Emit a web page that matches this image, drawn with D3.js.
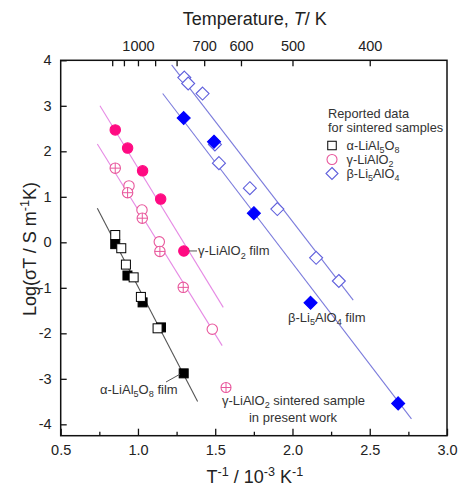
<!DOCTYPE html>
<html>
<head>
<meta charset="utf-8">
<script src="https://cdn.jsdelivr.net/npm/d3@7"></script>
<style>
  html, body { margin: 0; padding: 0; background: #fff; }
  svg { display: block; font-family: "Liberation Sans", Arial, sans-serif; }
</style>
</head>
<body>
<svg id="chart" width="459" height="487"></svg>
<script>
// ---- data (x = 1000/T in 1e-3 K^-1, y = log(sigma*T)) ----
// alpha-LiAl5O8, reported sintered samples
const alphaSinterX = [0.853, 0.892, 0.922, 0.972, 1.019, 1.127];
const alphaSinterY = [0.16, -0.13, -0.49, -0.77, -1.20, -1.89];
// alpha-LiAl5O8 film
const alphaFilmX = [0.853, 0.932, 1.030, 1.149, 1.296];
const alphaFilmY = [-0.04, -0.73, -1.32, -1.87, -2.88];
const alphaFitX = [0.737, 1.386];
const alphaFitY = [0.75, -3.50];

// gamma-LiAlO2 film
const gammaFilmX = [0.853, 0.933, 1.030, 1.147, 1.297];
const gammaFilmY = [2.47, 2.07, 1.57, 0.95, -0.19];
const gammaFilmFitX = [0.754, 1.552];
const gammaFilmFitY = [3.00, -1.43];
// gamma-LiAlO2, reported sintered samples
const gammaSinterX = [0.942, 1.026, 1.138, 1.481];
const gammaSinterY = [1.24, 0.71, 0.01, -1.91];
// gamma-LiAlO2 sintered sample, present work
const gammaPresentX = [0.853, 0.933, 1.028, 1.142, 1.293];
const gammaPresentY = [1.63, 1.09, 0.53, -0.20, -0.99];
const gammaSinterFitX = [0.737, 1.545];
const gammaSinterFitY = [2.16, -2.27];

// beta-Li5AlO4, reported sintered samples
const betaSinterX = [1.300, 1.325, 1.418, 1.498, 1.524, 1.724, 1.902, 2.153, 2.300];
const betaSinterY = [3.62, 3.49, 3.27, 2.15, 1.74, 1.19, 0.73, -0.34, -0.85];
const betaSinterFitX = [1.218, 2.393];
const betaSinterFitY = [3.90, -1.27];
// beta-Li5AlO4 film
const betaFilmX = [1.296, 1.492, 1.750, 2.117, 2.684];
const betaFilmY = [2.73, 2.21, 0.64, -1.33, -3.54];
const betaFilmFitX = [1.160, 2.770];
const betaFilmFitY = [3.27, -3.88];

// axes
const xTicks = [0.5, 1.0, 1.5, 2.0, 2.5, 3.0];
const xMinorTicks = [0.75, 1.25, 1.75, 2.25, 2.75];
const yTicks = [-4, -3, -2, -1, 0, 1, 2, 3, 4];
const tempTicks = [1200, 1100, 1000, 900, 800, 700, 600, 500, 400];
const tempLabels = [1000, 700, 600, 500, 400];

// ---- layout ----
const svg = d3.select("#chart");
const plotL = 60.7, plotR = 447, plotT = 60.3, plotB = 435.7;
const x = d3.scaleLinear().domain([0.5, 3.0]).range([plotL, plotR]);
const y = d3.scaleLinear().domain([-4.25, 4]).range([plotB, plotT]);

const C = {
  magenta: "#ff0a82",
  pinkOpen: "#e8579c",
  pinkLine: "#e68ae4",
  blue: "#0000ff",
  blueOpen: "#5f5fdc",
  blueLine: "#7b7bdc",
  grayLine: "#555"
};

// rich text helper: parts = [[text, "n"|"sub"|"sup"|"it"], ...]
function rich(sel, parts, fs) {
  let shift = 0;
  parts.forEach(([t, k]) => {
    const ts = sel.append("tspan").text(t);
    let target = 0;
    if (k === "sub") target = fs * 0.25;
    if (k === "sup") target = -fs * 0.38;
    ts.attr("dy", target - shift);
    shift = target;
    if (k === "sub" || k === "sup") ts.attr("font-size", fs * 0.7);
    if (k === "it") ts.attr("font-style", "italic");
  });
  return sel;
}

// ---- axes ----
const axisG = svg.append("g");

const xAxis = d3.axisBottom(x).tickValues(xTicks).tickFormat(d3.format(".1f"))
  .tickSizeInner(-7).tickSizeOuter(0).tickPadding(9);
const gx = axisG.append("g").attr("transform", `translate(0,${plotB})`).call(xAxis);
const gxm = axisG.append("g").attr("transform", `translate(0,${plotB})`)
  .call(d3.axisBottom(x).tickValues(xMinorTicks).tickFormat("").tickSizeInner(-4).tickSizeOuter(0));

const yAxis = d3.axisLeft(y).tickValues(yTicks).tickFormat(d => String(d))
  .tickSizeInner(-6).tickSizeOuter(0).tickPadding(9);
const gy = axisG.append("g").attr("transform", `translate(${plotL},0)`).call(yAxis);

const tAxis = d3.axisTop(x).tickValues(tempTicks.map(t => 1000 / t))
  .tickFormat((d, i) => tempLabels.includes(tempTicks[i]) ? String(tempTicks[i]) : "")
  .tickSizeInner(-6).tickSizeOuter(0).tickPadding(9);
const gt = axisG.append("g").attr("transform", `translate(0,${plotT})`).call(tAxis);

[gx, gxm, gy, gt].forEach(g => {
  g.select(".domain").remove();
  g.selectAll(".tick line").attr("stroke", "#111").attr("stroke-width", 1.3);
  g.selectAll(".tick text").attr("font-size", 14.5).attr("fill", "#222")
    .attr("font-family", "Liberation Sans, Arial, sans-serif");
});

// frame
svg.append("rect").attr("x", plotL).attr("y", plotT)
  .attr("width", plotR - plotL).attr("height", plotB - plotT)
  .attr("fill", "none").attr("stroke", "#111").attr("stroke-width", 1.5);

// axis titles
rich(svg.append("text").attr("x", (plotL + plotR) / 2 + 1).attr("y", 25)
  .attr("text-anchor", "middle").attr("font-size", 18).attr("fill", "#222"),
  [["Temperature, ", "n"], ["T", "it"], ["/ K", "n"]], 18);

rich(svg.append("text").attr("x", (plotL + plotR) / 2 + 1).attr("y", 483)
  .attr("text-anchor", "middle").attr("font-size", 18).attr("fill", "#222"),
  [["T", "n"], ["-1", "sup"], [" / 10", "n"], ["-3", "sup"], [" K", "n"], ["-1", "sup"]], 18);

rich(svg.append("text").attr("transform", "translate(36,249) rotate(-90)")
  .attr("text-anchor", "middle").attr("font-size", 18).attr("fill", "#222"),
  [["Log(\u03c3T / S m", "n"], ["-1", "sup"], ["K)", "n"]], 18);

// ---- fit lines ----
const line = d3.line().x(d => x(d[0])).y(d => y(d[1]));
const fits = [
  [alphaFitX, alphaFitY, C.grayLine],
  [gammaFilmFitX, gammaFilmFitY, C.pinkLine],
  [gammaSinterFitX, gammaSinterFitY, C.pinkLine],
  [betaSinterFitX, betaSinterFitY, C.blueLine],
  [betaFilmFitX, betaFilmFitY, C.blueLine]
];
const fitG = svg.append("g");
fits.forEach(([xs, ys, col]) => {
  fitG.append("path").attr("d", line(d3.zip(xs, ys)))
    .attr("fill", "none").attr("stroke", col).attr("stroke-width", 1.1);
});

// ---- marker drawing ----
function square(g, cx, cy, filled, s = 9) {
  g.append("rect").attr("x", cx - s / 2).attr("y", cy - s / 2).attr("width", s).attr("height", s)
    .attr("fill", filled ? "#000" : "#fff").attr("stroke", "#000").attr("stroke-width", 1);
}
function circle(g, cx, cy, mode, r = 5.2) {
  const fill = mode === "filled" ? C.magenta : "#fff";
  const stroke = mode === "filled" ? C.magenta : C.pinkOpen;
  g.append("circle").attr("cx", cx).attr("cy", cy).attr("r", r)
    .attr("fill", fill).attr("stroke", stroke).attr("stroke-width", 1.1);
  if (mode === "cross") {
    g.append("line").attr("x1", cx - r).attr("x2", cx + r).attr("y1", cy).attr("y2", cy)
      .attr("stroke", stroke).attr("stroke-width", 1);
    g.append("line").attr("x1", cx).attr("x2", cx).attr("y1", cy - r).attr("y2", cy + r)
      .attr("stroke", stroke).attr("stroke-width", 1);
  }
}
function diamond(g, cx, cy, filled, h = 6.5) {
  const pts = [[cx, cy - h], [cx + h, cy], [cx, cy + h], [cx - h, cy]];
  g.append("polygon").attr("points", pts.map(p => p.join(",")).join(" "))
    .attr("fill", filled ? C.blue : "#fff").attr("stroke", filled ? C.blue : C.blueOpen)
    .attr("stroke-width", 1.1);
}

const mk = svg.append("g");
alphaFilmX.forEach((v, i) => square(mk, x(v), y(alphaFilmY[i]), true));
alphaSinterX.forEach((v, i) => square(mk, x(v), y(alphaSinterY[i]), false));
gammaSinterX.forEach((v, i) => circle(mk, x(v), y(gammaSinterY[i]), "open"));
gammaPresentX.forEach((v, i) => circle(mk, x(v), y(gammaPresentY[i]), "cross"));
gammaFilmX.forEach((v, i) => circle(mk, x(v), y(gammaFilmY[i]), "filled"));
betaSinterX.forEach((v, i) => diamond(mk, x(v), y(betaSinterY[i]), false));
betaFilmX.forEach((v, i) => diamond(mk, x(v), y(betaFilmY[i]), true));

// ---- legend ----
const lg = svg.append("g").attr("font-size", 12.8).attr("fill", "#333");
lg.append("text").attr("x", 328).attr("y", 118).text("Reported data");
lg.append("text").attr("x", 328).attr("y", 131.5).text("for sintered samples");
const legendRows = [
  { draw: (g, cx, cy) => square(g, cx, cy, false, 8.5), parts: [["\u03b1-LiAl", "n"], ["5", "sub"], ["O", "n"], ["8", "sub"]] },
  { draw: (g, cx, cy) => circle(g, cx, cy, "open", 5), parts: [["\u03b3-LiAlO", "n"], ["2", "sub"]] },
  { draw: (g, cx, cy) => diamond(g, cx, cy, false, 6), parts: [["\u03b2-Li", "n"], ["5", "sub"], ["AlO", "n"], ["4", "sub"]] }
];
legendRows.forEach((r, i) => {
  const cy = 145.5 + i * 14;
  r.draw(lg, 332, cy);
  rich(lg.append("text").attr("x", 346.5).attr("y", cy + 4.3), r.parts, 12.8);
});

// ---- annotations ----
const an = svg.append("g").attr("font-size", 13).attr("fill", "#333");
// gamma film
an.append("line").attr("x1", x(gammaFilmX[4]) + 5).attr("x2", 197)
  .attr("y1", y(gammaFilmY[4])).attr("y2", y(gammaFilmY[4])).attr("stroke", "#555").attr("stroke-width", 1);
rich(an.append("text").attr("x", 198).attr("y", y(gammaFilmY[4]) + 4.5),
  [["\u03b3-LiAlO", "n"], ["2", "sub"], [" film", "n"]], 13);
// beta film
rich(an.append("text").attr("x", 288).attr("y", 322),
  [["\u03b2-Li", "n"], ["5", "sub"], ["AlO", "n"], ["4", "sub"], [" film", "n"]], 13);
// alpha film
an.append("line").attr("x1", 166).attr("y1", 382).attr("x2", x(alphaFilmX[4]) - 4).attr("y2", y(alphaFilmY[4]) + 1)
  .attr("stroke", "#555").attr("stroke-width", 1);
rich(an.append("text").attr("x", 100).attr("y", 394),
  [["\u03b1-LiAl", "n"], ["5", "sub"], ["O", "n"], ["8", "sub"], [" film", "n"]], 13);
// present work
circle(an, 226, 387.5, "cross", 5);
rich(an.append("text").attr("x", 222).attr("y", 405),
  [["\u03b3-LiAlO", "n"], ["2", "sub"], [" sintered sample", "n"]], 13);
an.append("text").attr("x", 293).attr("y", 421.5).attr("text-anchor", "middle").text("in present work");
</script>
</body>
</html>
